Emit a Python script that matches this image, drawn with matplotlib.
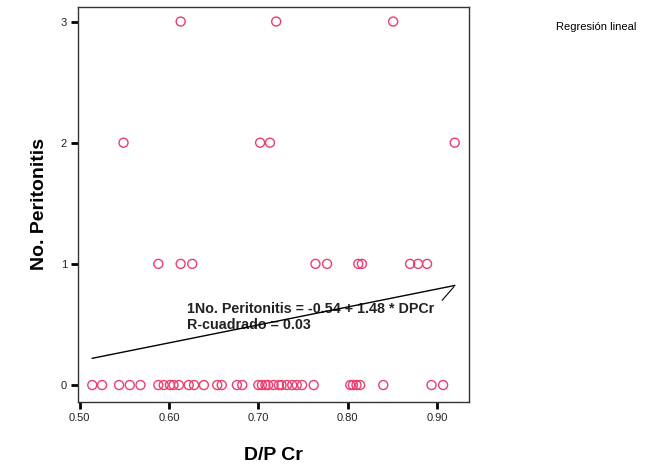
import numpy as np
import matplotlib.pyplot as plt

plt.rcParams['font.family'] = ['Liberation Sans', 'DejaVu Sans']

# D/P Cr values grouped by number of peritonitis episodes
dpcr_0 = [0.514, 0.525, 0.544, 0.556, 0.568, 0.588, 0.594, 0.601, 0.605, 0.611,
          0.622, 0.628, 0.639, 0.654, 0.659, 0.676, 0.682, 0.700, 0.704, 0.708,
          0.711, 0.717, 0.723, 0.726, 0.732, 0.738, 0.743, 0.749, 0.762, 0.803,
          0.806, 0.810, 0.814, 0.840, 0.894, 0.907]
dpcr_1 = [0.588, 0.613, 0.626, 0.764, 0.777, 0.812, 0.816, 0.870, 0.879, 0.889]
dpcr_2 = [0.549, 0.702, 0.713, 0.920]
dpcr_3 = [0.613, 0.720, 0.851]

intercept = -0.54
slope = 1.48
r2 = 0.03

x = np.array(dpcr_0 + dpcr_1 + dpcr_2 + dpcr_3)
y = np.array([0] * len(dpcr_0) + [1] * len(dpcr_1) + [2] * len(dpcr_2) + [3] * len(dpcr_3))

fig = plt.figure(figsize=(6.67, 4.68), dpi=100)
ax = fig.add_axes([78 / 667, 66 / 468, 391 / 667, 395 / 468])

ax.scatter(x, y, s=42, facecolors='none', edgecolors='#ec3d6e', linewidths=1.0, zorder=3)

xl = np.array([x.min(), x.max()])
ax.plot(xl, intercept + slope * xl, color='black', linewidth=1.0, zorder=4)

# leader from the label to the fit line
ax.plot([0.906, 0.919], [0.70, 0.81], color='black', linewidth=0.8)
ax.text(0.620, 0.56, "1No. Peritonitis = %.2f + %.2f * DPCr\nR-cuadrado = %.2f" % (intercept, slope, r2),
        fontsize=10.3, fontweight='bold', color='#222222', va='center', ha='left',
        linespacing=1.2, zorder=2)

ax.set_xlim(0.498, 0.936)
ax.set_ylim(-0.14, 3.12)
ax.set_xticks([0.5, 0.6, 0.7, 0.8, 0.9])
ax.set_xticklabels(['0.50', '0.60', '0.70', '0.80', '0.90'])
ax.set_yticks([0, 1, 2, 3])
ax.tick_params(axis='both', direction='out', length=5, width=2, labelsize=8, pad=3,
               labelcolor='#222222')

for s in ax.spines.values():
    s.set_color('#333333')
    s.set_linewidth(1.0)

ax.set_xlabel('D/P Cr', fontsize=14, fontweight='bold', labelpad=17)
ax.set_ylabel('No. Peritonitis', fontsize=14, fontweight='bold', labelpad=9)

fig.text(556 / 667, 1 - 27 / 468, 'Regresión lineal', fontsize=8, va='center', ha='left')

fig.savefig('out.png', dpi=100)
